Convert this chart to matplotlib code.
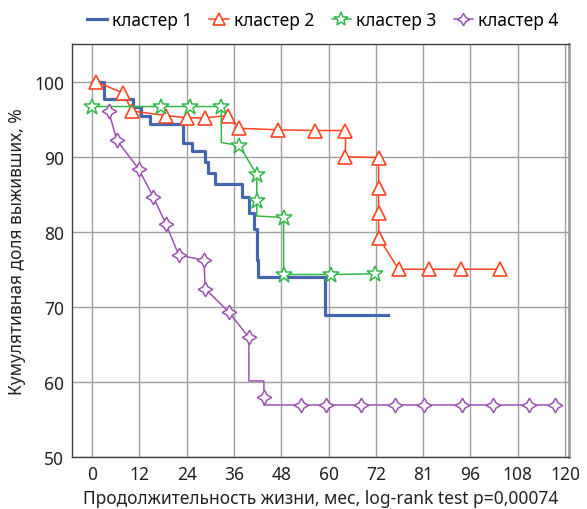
import matplotlib
matplotlib.use("Agg")
import matplotlib.pyplot as plt

plt.rcParams['font.family'] = ['Noto Sans', 'DejaVu Sans']

# cluster 1: Kaplan-Meier steps (time, survival %)
c1_t = [0, 3.0, 10.5, 12.5, 14.6, 23.1, 25.3, 28.7, 29.4, 31.3, 38.1, 39.7, 41.0, 41.8, 42.2, 59.0, 75.0]
c1_s = [100, 97.7, 96.6, 95.5, 94.4, 91.9, 90.8, 89.3, 87.9, 86.4, 84.7, 82.5, 80.4, 76.2, 74.0, 68.9, 68.9]

# cluster 2
c2_t = [1.0, 7.9, 10.2, 18.7, 24.2, 28.7, 34.5, 37.4, 47.1, 56.6, 64.3, 64.3, 72.7, 72.7, 72.7, 72.7, 77.8, 85.5, 93.6, 103.5]
c2_s = [100, 98.5, 96.1, 95.5, 95.2, 95.2, 95.5, 93.8, 93.6, 93.5, 93.5, 90.0, 89.9, 85.9, 82.5, 79.2, 75.0, 75.0, 75.0, 75.0]

# cluster 3 (marker flags: 1 = censored mark shown)
c3_t = [0, 17.6, 24.8, 32.8, 32.8, 37.4, 41.8, 41.8, 41.8, 48.6, 48.6, 60.6, 71.8]
c3_s = [96.7, 96.7, 96.7, 96.7, 91.9, 91.5, 87.6, 84.1, 82.1, 81.9, 74.3, 74.3, 74.4]
c3_mark = [1, 1, 1, 1, 0, 1, 1, 1, 0, 1, 1, 1, 1]

# cluster 4
c4_t = [4.2, 6.3, 11.8, 15.5, 18.7, 22.0, 28.4, 28.7, 34.7, 39.8, 39.8, 43.6, 43.6, 43.6,
        53.0, 59.4, 68.2, 76.9, 84.1, 93.8, 101.8, 110.9, 117.5]
c4_s = [96.1, 92.2, 88.4, 84.7, 81.1, 76.9, 76.2, 72.4, 69.3, 65.9, 60.1, 60.1, 58.0, 56.9,
        56.9, 56.9, 56.9, 56.9, 56.9, 56.9, 56.9, 56.9, 56.9]
c4_mark = [1, 1, 1, 1, 1, 1, 1, 1, 1, 1, 0, 0, 1, 0, 1, 1, 1, 1, 1, 1, 1, 1, 1]

x_ticks = [0, 12, 24, 36, 48, 60, 72, 84, 96, 108, 120]
x_labels = ['0', '12', '24', '36', '48', '60', '72', '81', '96', '108', '120']
y_ticks = [50, 60, 70, 80, 90, 100]

blue = '#4466B0'
red = '#FF4422'
green = '#33B84A'
purple = '#9B52B0'

fig = plt.figure(figsize=(5.87, 5.10), dpi=100)
ax = fig.add_axes([0.1232, 0.1025, 0.8461, 0.8087])

ax.plot(c1_t, c1_s, drawstyle='steps-post', color=blue, lw=2.3, label='кластер 1', zorder=3)
ax.plot(c2_t, c2_s, color=red, lw=1.1, marker='^', ms=9.5, mfc='white', mec=red, mew=1.2,
        label='кластер 2', zorder=4)
ax.plot(c3_t, c3_s, color=green, lw=1.1, marker='*', ms=12, mfc='white', mec=green, mew=1.1,
        markevery=[i for i, m in enumerate(c3_mark) if m], label='кластер 3', zorder=4)
ax.plot(c4_t, c4_s, color=purple, lw=1.1, marker=(4, 1, 0), ms=10.5, mfc='white', mec=purple, mew=1.1,
        markevery=[i for i, m in enumerate(c4_mark) if m], label='кластер 4', zorder=4)

ax.set_xlim(-5, 121)
ax.set_ylim(50, 105)
ax.set_xticks(x_ticks)
ax.set_xticklabels(x_labels)
ax.set_yticks(y_ticks)
ax.tick_params(length=0, labelsize=12.5, pad=6, colors='#222222')
ax.grid(True, color='#A0A0A0', lw=1.0)
ax.set_axisbelow(True)

for s in ['left', 'bottom', 'top']:
    ax.spines[s].set_color('#404040')
    ax.spines[s].set_linewidth(1.0)
ax.spines['right'].set_color('#A0A0A0')
ax.spines['right'].set_linewidth(2.0)

ax.set_xlabel('Продолжительность жизни, мес, log-rank test p=0,00074', fontsize=12.5, labelpad=4,
              color='#222222')
ax.set_ylabel('Кумулятивная доля выживших, %', fontsize=12.5, labelpad=6, color='#222222')

leg = fig.legend(loc='center', bbox_to_anchor=(0.55, 0.958), ncol=4, frameon=False, fontsize=12.5,
                 handlelength=1.1, handletextpad=0.3, columnspacing=1.0, markerscale=0.85)

fig.savefig('out.png', dpi=100)
